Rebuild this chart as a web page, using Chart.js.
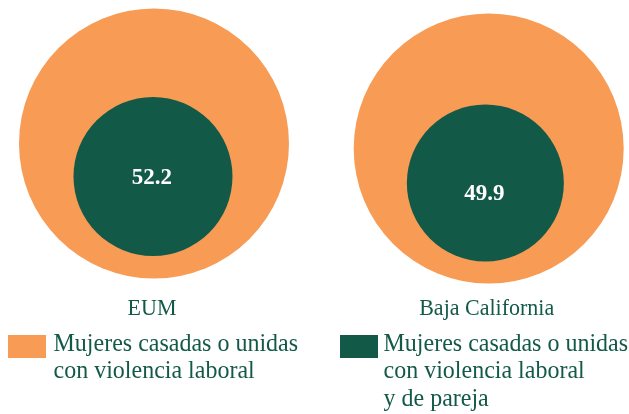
<!DOCTYPE html>
<html>
<head>
<meta charset="utf-8">
<script src="https://cdn.jsdelivr.net/npm/chart.js@4/dist/chart.umd.min.js"></script>
<style>
  html, body { margin: 0; padding: 0; background: #ffffff; }
  #wrap { width: 629px; height: 414px; position: relative; }
</style>
</head>
<body>
<div id="wrap"><canvas id="c" width="629" height="414"></canvas></div>
<script>
// ---- data ----
const categories = ['EUM', 'Baja California'];
const values = [52.2, 49.9];
const seriesNames = [
  ['Mujeres casadas o unidas', 'con violencia laboral'],
  ['Mujeres casadas o unidas', 'con violencia laboral', 'y de pareja']
];

// ---- layout / style (not data) ----
const ORANGE = '#F79B55';
const GREEN = '#135948';
const TEXT = '#135948';
const FONT = '"Liberation Serif", "Times New Roman", serif';
const outerY = [143.5, 148.5];
const innerY = [176.5, 183];
const innerDX = [-0.003, -0.010];
const OUTER_R = 135;
const INNER_R = [79.5, 78.5];

const outerData = categories.map((c, i) => ({ x: i, y: outerY[i], r: OUTER_R }));
const innerData = categories.map((c, i) => ({ x: i + innerDX[i], y: innerY[i], r: INNER_R[i] }));

function stretchedText(ctx, txt, x, y, sy) {
  ctx.save();
  ctx.translate(x, y);
  ctx.scale(1, sy);
  ctx.fillText(txt, 0, 0);
  ctx.restore();
}

const labelsPlugin = {
  id: 'labelsPlugin',
  afterDatasetsDraw(chart) {
    const ctx = chart.ctx;
    const xs = chart.scales.x;
    ctx.save();
    // values inside inner circles
    const inner = chart.getDatasetMeta(1).data;
    ctx.fillStyle = '#ffffff';
    ctx.font = 'bold 23px ' + FONT;
    ctx.textAlign = 'center';
    ctx.textBaseline = 'alphabetic';
    const valOffset = [7, 16.5];
    values.forEach((v, i) => {
      const p = inner[i];
      stretchedText(ctx, v.toFixed(1), p.x - 1, p.y + valOffset[i], 1.04);
    });
    // category labels
    ctx.fillStyle = TEXT;
    ctx.font = '22px ' + FONT;
    categories.forEach((c, i) => {
      const x = xs.getPixelForValue(i) - 2;
      stretchedText(ctx, c, x, 314.5, 1.05);
    });
    // legend
    const boxX = [8, 340];
    const textX = [53.5, 383.5];
    const colors = [ORANGE, GREEN];
    ctx.textAlign = 'left';
    ctx.font = '24px ' + FONT;
    seriesNames.forEach((lines, i) => {
      ctx.fillStyle = colors[i];
      ctx.fillRect(boxX[i], 335, 38, 23);
      ctx.fillStyle = TEXT;
      lines.forEach((ln, j) => {
        stretchedText(ctx, ln, textX[i], 350.7 + j * 27.4, 1.08);
      });
    });
    ctx.restore();
  }
};

new Chart(document.getElementById('c'), {
  type: 'bubble',
  data: {
    datasets: [
      { label: seriesNames[0].join(' '), data: outerData, backgroundColor: ORANGE, borderWidth: 0, hoverBorderWidth: 0, clip: false, order: 1 },
      { label: seriesNames[1].join(' '), data: innerData, backgroundColor: GREEN, borderWidth: 0, hoverBorderWidth: 0, clip: false, order: 0 }
    ]
  },
  options: {
    responsive: false,
    animation: false,
    events: [],
    layout: { padding: 0, autoPadding: false },
    plugins: { legend: { display: false }, tooltip: { enabled: false } },
    scales: {
      x: { type: 'linear', display: false, min: -0.4601, max: 1.4192 },
      y: { type: 'linear', display: false, min: 0, max: 414, reverse: true }
    }
  },
  plugins: [labelsPlugin]
});
</script>
</body>
</html>
